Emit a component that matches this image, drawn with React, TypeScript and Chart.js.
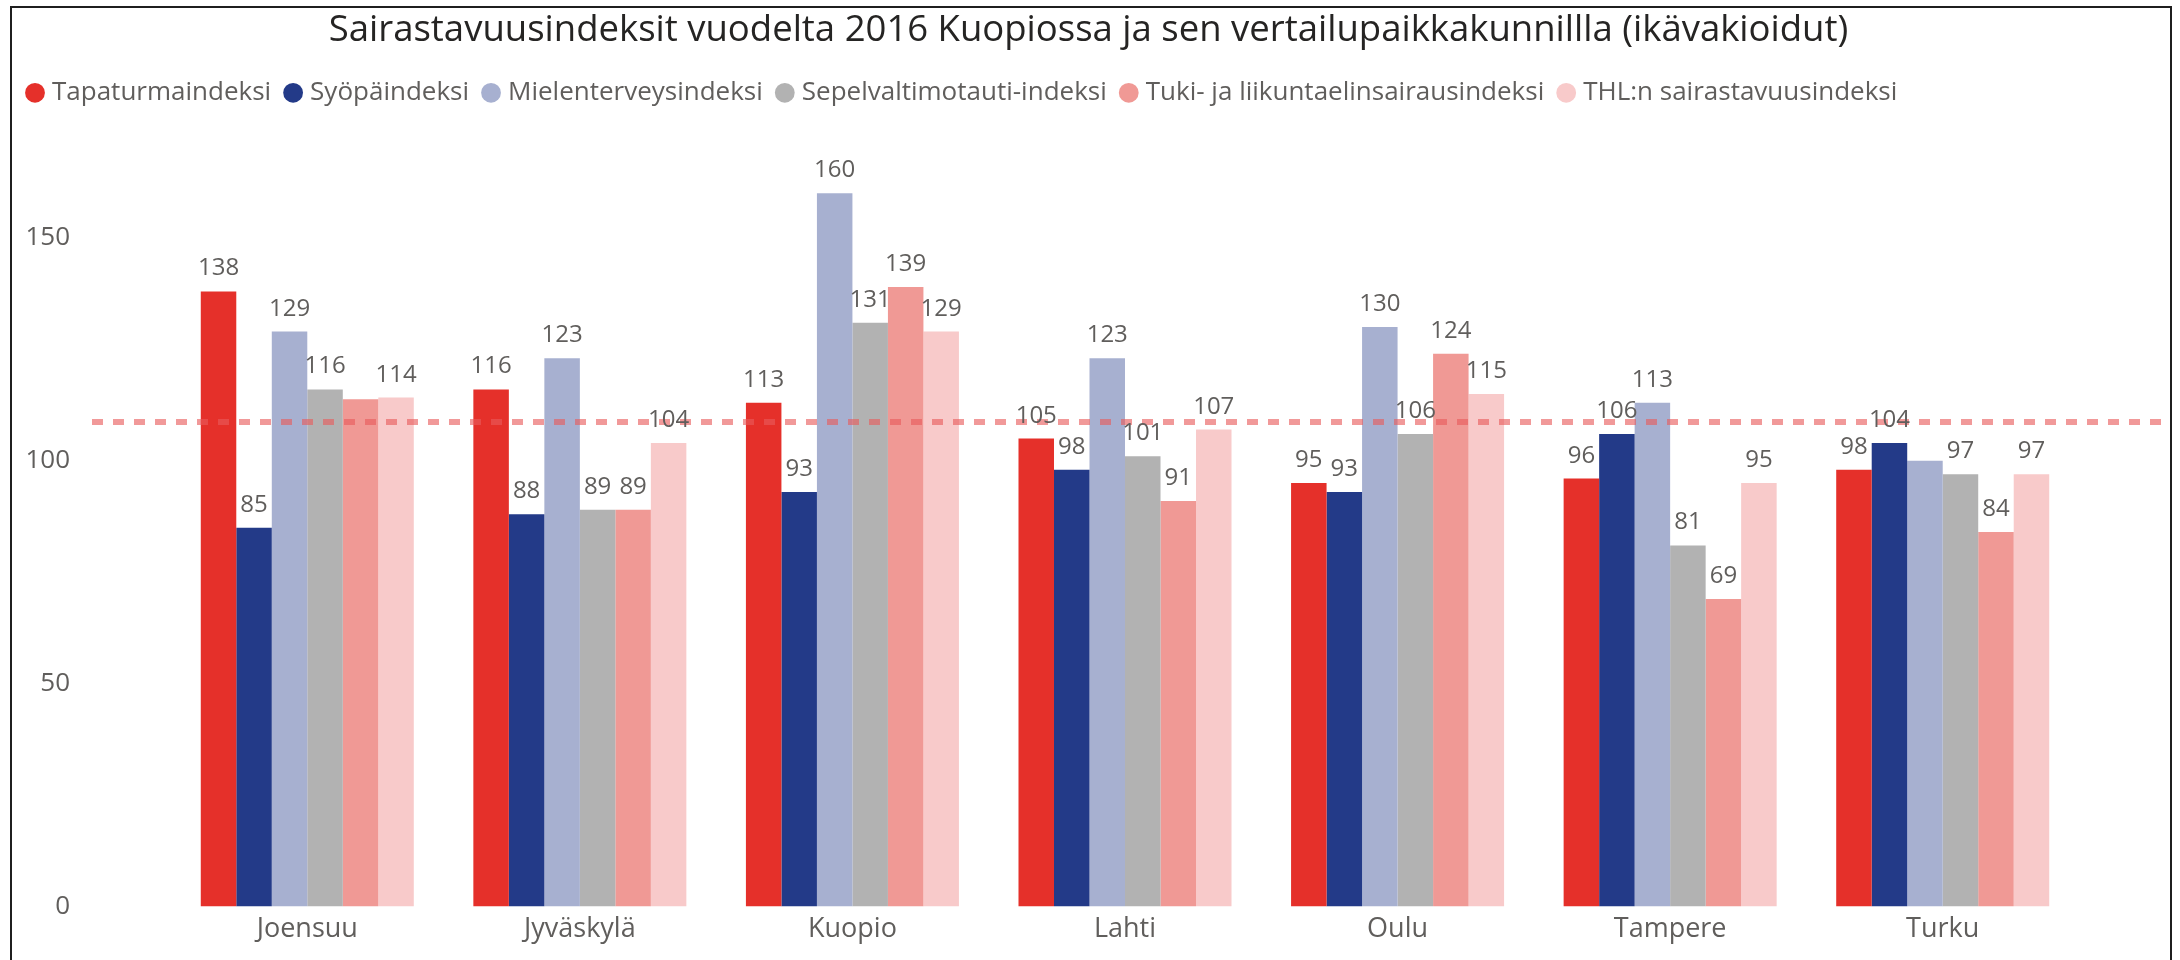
import React, { useEffect, useRef } from 'react';
import { Chart, registerables } from 'chart.js';

Chart.register(...registerables);

const TITLE = 'Sairastavuusindeksit vuodelta 2016 Kuopiossa ja sen vertailupaikkakunnillla (ikävakioidut)';

const CATEGORIES = ['Joensuu', 'Jyväskylä', 'Kuopio', 'Lahti', 'Oulu', 'Tampere', 'Turku'];

const SERIES_NAMES = [
  'Tapaturmaindeksi',
  'Syöpäindeksi',
  'Mielenterveysindeksi',
  'Sepelvaltimotauti-indeksi',
  'Tuki- ja liikuntaelinsairausindeksi',
  'THL:n sairastavuusindeksi',
];

const TAPATURMA = [138, 116, 113, 105, 95, 96, 98];
const SYOPA = [85, 88, 93, 98, 93, 106, 104];
const MIELENTERVEYS = [129, 123, 160, 123, 130, 113, 100];
const SEPELVALTIMO = [116, 89, 131, 101, 106, 81, 97];
const TUKI_LIIKUNTA = [113.8, 89, 139, 91, 124, 69, 84];
const THL_SAIRASTAVUUS = [114.2, 104, 129, 107, 115, 95, 97];

const SERIES_VALUES = [TAPATURMA, SYOPA, MIELENTERVEYS, SEPELVALTIMO, TUKI_LIIKUNTA, THL_SAIRASTAVUUS];
const SERIES_COLORS = ['#E5302A', '#233A88', '#A7B0D0', '#B2B2B2', '#F09995', '#F8CACA'];

const REFERENCE_LINE = 108.7;
const Y_TICKS = [0, 50, 100, 150];
const Y_MAX = 170;

const FONT = "'Open Sans', sans-serif";
const TEXT_GRAY = '#605E5C';
const LABEL_SIZE = 24;
const LEGEND_GAP = 33;

export default function App() {
  const ref = useRef<HTMLCanvasElement>(null);

  useEffect(() => {
    const canvas = ref.current;
    if (!canvas) return;

    const legendGapPlugin = {
      id: 'legendGap',
      beforeInit(chart: any) {
        const legend = chart.legend;
        if (!legend) return;
        const orig = legend.fit.bind(legend);
        legend.fit = function () {
          orig();
          this.height += LEGEND_GAP;
        };
      },
    };

    const refLinePlugin = {
      id: 'refLine',
      afterDatasetsDraw(chart: any) {
        const { ctx, chartArea, scales } = chart;
        const y = scales.y.getPixelForValue(REFERENCE_LINE);
        ctx.save();
        ctx.strokeStyle = 'rgba(232, 90, 90, 0.62)';
        ctx.lineWidth = 6;
        ctx.setLineDash([11, 10]);
        ctx.beginPath();
        ctx.moveTo(chartArea.left - 79, y);
        ctx.lineTo(chartArea.right + 84, y);
        ctx.stroke();
        ctx.restore();
      },
    };

    const labelPlugin = {
      id: 'barLabels',
      afterDraw(chart: any) {
        const { ctx } = chart;
        ctx.save();
        ctx.font = `${LABEL_SIZE}px ${FONT}`;
        ctx.fillStyle = TEXT_GRAY;
        ctx.textAlign = 'center';
        ctx.textBaseline = 'alphabetic';
        const placed: { l: number; r: number; t: number; b: number }[] = [];
        const boxH = LABEL_SIZE * 1.2;
        CATEGORIES.forEach((_, i) => {
          const items: { x: number; y: number; v: number }[] = [];
          chart.data.datasets.forEach((ds: any, d: number) => {
            const el = chart.getDatasetMeta(d).data[i];
            if (!el) return;
            items.push({ x: el.x, y: el.y, v: ds.data[i] });
          });
          items.sort((a, b) => b.v - a.v);
          items.forEach((it) => {
            const text = String(Math.round(it.v));
            const w = ctx.measureText(text).width;
            const base = it.y - 16;
            const rect = { l: it.x - w / 2, r: it.x + w / 2, t: base - boxH, b: base };
            const hit = placed.some((p) => rect.l < p.r && rect.r > p.l && rect.t < p.b && rect.b > p.t);
            if (hit) return;
            placed.push(rect);
            ctx.fillText(text, it.x, base);
          });
        });
        ctx.restore();

        // frame
        ctx.save();
        ctx.strokeStyle = '#1F1F1F';
        ctx.lineWidth = 2;
        ctx.beginPath();
        ctx.moveTo(11, 960);
        ctx.lineTo(11, 7);
        ctx.lineTo(2171, 7);
        ctx.lineTo(2171, 960);
        ctx.stroke();
        ctx.restore();
      },
    };

    const chart = new Chart(canvas, {
      type: 'bar',
      data: {
        labels: CATEGORIES,
        datasets: SERIES_NAMES.map((name, k) => ({
          label: name,
          data: SERIES_VALUES[k],
          backgroundColor: SERIES_COLORS[k],
          borderWidth: 0,
          categoryPercentage: 0.7815,
          barPercentage: 1.0,
        })),
      },
      options: {
        responsive: false,
        animation: false,
        events: [],
        font: { family: FONT },
        layout: { padding: { left: 13, right: 16, top: 0, bottom: 0 } },
        plugins: {
          tooltip: { enabled: false },
          title: {
            display: true,
            text: TITLE,
            color: '#252423',
            font: { family: FONT, size: 36.5, weight: 'normal' },
            padding: { top: 9, bottom: 9 },
          },
          legend: {
            display: true,
            position: 'top',
            align: 'start',
            labels: {
              usePointStyle: true,
              pointStyle: 'circle',
              boxWidth: 8,
              boxHeight: 14,
              padding: 18,
              color: TEXT_GRAY,
              font: { family: FONT, size: 26 },
            },
          },
        },
        scales: {
          x: {
            type: 'category',
            offset: true,
            grid: { display: false, drawTicks: false },
            border: { display: false },
            ticks: {
              color: TEXT_GRAY,
              font: { family: FONT, size: 27 },
              padding: 7,
              maxRotation: 0,
              autoSkip: false,
            },
            afterFit: (s: any) => {
              s.height = 53.5;
            },
          },
          y: {
            type: 'linear',
            min: 0,
            max: Y_MAX,
            grid: { display: false, drawTicks: false },
            border: { display: false },
            afterBuildTicks: (s: any) => {
              s.ticks = Y_TICKS.map((v) => ({ value: v }));
            },
            ticks: {
              color: TEXT_GRAY,
              font: { family: FONT, size: 26 },
              padding: 101,
            },
            afterFit: (s: any) => {
              s.width = 158;
              s.paddingTop = 0;
              s.paddingBottom = 0;
            },
          },
          yRight: {
            type: 'linear',
            position: 'right',
            display: true,
            grid: { display: false, drawTicks: false },
            border: { display: false },
            ticks: { display: false },
            afterFit: (s: any) => {
              s.width = 85;
              s.paddingTop = 0;
              s.paddingBottom = 0;
            },
          },
        },
      },
      plugins: [legendGapPlugin, refLinePlugin, labelPlugin],
    } as any);

    return () => {
      chart.destroy();
    };
  }, []);

  return (
    <div style={{ position: 'absolute', left: 0, top: 0, width: 2180, height: 960, background: '#fff' }}>
      <canvas ref={ref} width={2180} height={960} style={{ display: 'block', width: 2180, height: 960 }} />
    </div>
  );
}
